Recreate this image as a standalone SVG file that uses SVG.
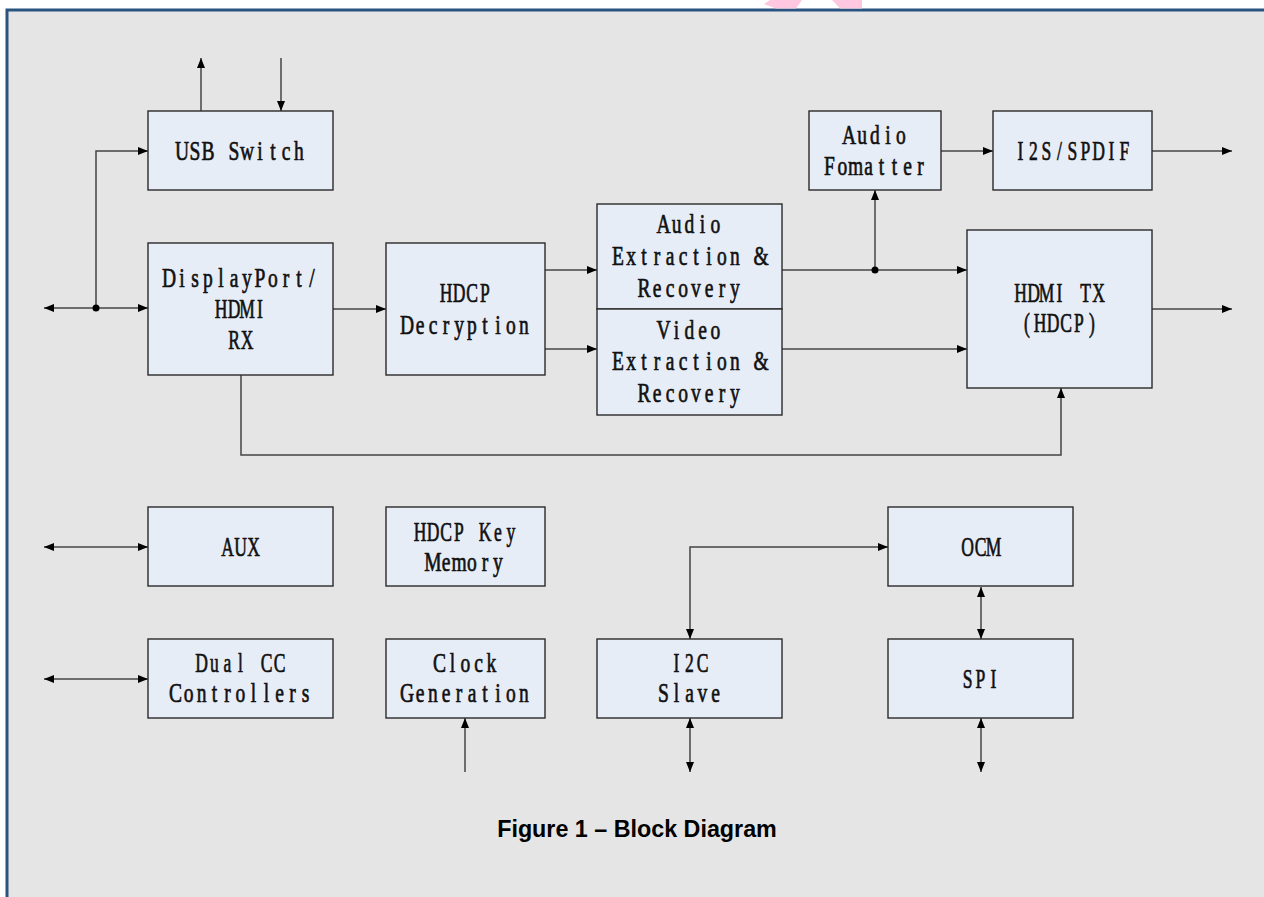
<svg xmlns="http://www.w3.org/2000/svg" width="1264" height="897" viewBox="0 0 1264 897">
<style>
.box{fill:#e7edf7;stroke:#2a2a2a;stroke-width:1.4}
.t{font-family:"Liberation Serif","DejaVu Serif",serif;font-size:27px;fill:#111;stroke:#111;stroke-width:0.7;text-anchor:middle}
.c{fill:none;stroke:#444;stroke-width:1.5}
.cap{font-family:"Liberation Sans",Arial,sans-serif;font-weight:bold;font-size:23.3px;fill:#000;text-anchor:middle}
</style>
<defs>
<marker id="a" viewBox="0 0 10 8" refX="10" refY="4" markerWidth="10" markerHeight="8" markerUnits="userSpaceOnUse" orient="auto-start-reverse"><path d="M0,0L10,4L0,8Z" fill="#000"/></marker>
</defs>
<rect x="0" y="0" width="1264" height="897" fill="#fff"/>
<rect x="7" y="10" width="1257" height="887" fill="#e5e5e5"/>
<path d="M7,897V10H1264" fill="none" stroke="#2a5480" stroke-width="3"/>
<g id="watermark" fill="#ffc8e0">
<polygon points="770,0 802,0 796,8.5 776,8.5 764,4"/>
<polygon points="832,0 862,0 862,8.5 840,8.5"/>
</g>

<g id="connectors">
<path class="c" d="M44,308H148" marker-start="url(#a)" marker-end="url(#a)"/>
<path class="c" d="M96,308V151H148" marker-end="url(#a)"/>
<circle cx="96" cy="308" r="3.5" fill="#000"/>
<path class="c" d="M201,111V58" marker-end="url(#a)"/>
<path class="c" d="M281,58V111" marker-end="url(#a)"/>
<path class="c" d="M333,309H386" marker-end="url(#a)"/>
<path class="c" d="M545,270H597" marker-end="url(#a)"/>
<path class="c" d="M545,349H597" marker-end="url(#a)"/>
<path class="c" d="M782,270H967" marker-end="url(#a)"/>
<path class="c" d="M875,270V190" marker-end="url(#a)"/>
<circle cx="875" cy="270" r="3.5" fill="#000"/>
<path class="c" d="M941,151H993" marker-end="url(#a)"/>
<path class="c" d="M1152,151H1232" marker-end="url(#a)"/>
<path class="c" d="M782,349H967" marker-end="url(#a)"/>
<path class="c" d="M1152,309H1232" marker-end="url(#a)"/>
<path class="c" d="M241,375V455H1061V388" marker-end="url(#a)"/>
<path class="c" d="M44,547H148" marker-start="url(#a)" marker-end="url(#a)"/>
<path class="c" d="M44,679H148" marker-start="url(#a)" marker-end="url(#a)"/>
<path class="c" d="M465,772V718" marker-end="url(#a)"/>
<path class="c" d="M690,639V547H888" marker-start="url(#a)" marker-end="url(#a)"/>
<path class="c" d="M981,587V639" marker-start="url(#a)" marker-end="url(#a)"/>
<path class="c" d="M690,718V772" marker-start="url(#a)" marker-end="url(#a)"/>
<path class="c" d="M981,718V772" marker-start="url(#a)" marker-end="url(#a)"/>
</g>

<g id="usb"><rect class="box" x="148" y="111" width="185" height="79"/>
<text class="t" transform="translate(240.5,160) scale(0.7222,1)" x="-81 -63 -45 -27 -9 9 27 45 63 81" y="0">USB Switch</text></g>

<g id="rx"><rect class="box" x="148" y="243" width="185" height="132"/>
<text class="t" transform="translate(240.5,287) scale(0.7222,1)" x="-99 -81 -63 -45 -27 -9 9 27 45 63 81 99" y="0">DisplayPort/</text>
<text class="t" transform="translate(240.5,318) scale(0.65,1)" x="-30 -10 10 30" y="0">HDMI</text>
<text class="t" transform="translate(240.5,349) scale(0.65,1)" x="-10 10" y="0">RX</text></g>

<g id="hdcp"><rect class="box" x="386" y="243" width="159" height="132"/>
<text class="t" transform="translate(465.5,302) scale(0.65,1)" x="-30 -10 10 30" y="0">HDCP</text>
<text class="t" transform="translate(465.5,334) scale(0.7222,1)" x="-81 -63 -45 -27 -9 9 27 45 63 81" y="0">Decryption</text></g>

<g id="audioext"><rect class="box" x="597" y="204" width="185" height="105"/>
<text class="t" transform="translate(689.5,233) scale(0.7222,1)" x="-36 -18 0 18 36" y="0">Audio</text>
<text class="t" transform="translate(689.5,265) scale(0.7222,1)" x="-99 -81 -63 -45 -27 -9 9 27 45 63 81 99" y="0">Extraction &amp;</text>
<text class="t" transform="translate(689.5,297) scale(0.7222,1)" x="-63 -45 -27 -9 9 27 45 63" y="0">Recovery</text></g>

<g id="videoext"><rect class="box" x="597" y="309" width="185" height="106"/>
<text class="t" transform="translate(689.5,339) scale(0.7222,1)" x="-36 -18 0 18 36" y="0">Video</text>
<text class="t" transform="translate(689.5,370) scale(0.7222,1)" x="-99 -81 -63 -45 -27 -9 9 27 45 63 81 99" y="0">Extraction &amp;</text>
<text class="t" transform="translate(689.5,402) scale(0.7222,1)" x="-63 -45 -27 -9 9 27 45 63" y="0">Recovery</text></g>

<g id="audiofmt"><rect class="box" x="809" y="111" width="132" height="79"/>
<text class="t" transform="translate(875,144) scale(0.7222,1)" x="-36 -18 0 18 36" y="0">Audio</text>
<text class="t" transform="translate(875,175) scale(0.7222,1)" x="-63 -45 -27 -9 9 27 45 63" y="0">Fomatter</text></g>

<g id="i2s"><rect class="box" x="993" y="111" width="159" height="79"/>
<text class="t" transform="translate(1072.5,160) scale(0.65,1)" x="-80 -60 -40 -20 0 20 40 60 80" y="0">I2S/SPDIF</text></g>

<g id="hdmitx"><rect class="box" x="967" y="230" width="185" height="158"/>
<text class="t" transform="translate(1059.5,302) scale(0.65,1)" x="-60 -40 -20 0 20 40 60" y="0">HDMI TX</text>
<text class="t" transform="translate(1059.5,332) scale(0.65,1)" x="-50 -30 -10 10 30 50" y="0">(HDCP)</text></g>

<g id="aux"><rect class="box" x="148" y="507" width="185" height="79"/>
<text class="t" transform="translate(240.5,556) scale(0.65,1)" x="-20 0 20" y="0">AUX</text></g>

<g id="hdcpkey"><rect class="box" x="386" y="507" width="159" height="79"/>
<text class="t" transform="translate(465.5,541) scale(0.65,1)" x="-70 -50 -30 -10 10 30 50 70" y="0">HDCP Key</text>
<text class="t" transform="translate(465.5,571) scale(0.7222,1)" x="-45 -27 -9 9 27 45" y="0">Memory</text></g>

<g id="dualcc"><rect class="box" x="148" y="639" width="185" height="79"/>
<text class="t" transform="translate(240.5,672) scale(0.65,1)" x="-60 -40 -20 0 20 40 60" y="0">Dual CC</text>
<text class="t" transform="translate(240.5,702) scale(0.7222,1)" x="-90 -72 -54 -36 -18 0 18 36 54 72 90" y="0">Controllers</text></g>

<g id="clock"><rect class="box" x="386" y="639" width="159" height="79"/>
<text class="t" transform="translate(465.5,672) scale(0.7222,1)" x="-36 -18 0 18 36" y="0">Clock</text>
<text class="t" transform="translate(465.5,702) scale(0.7222,1)" x="-81 -63 -45 -27 -9 9 27 45 63 81" y="0">Generation</text></g>

<g id="i2c"><rect class="box" x="597" y="639" width="185" height="79"/>
<text class="t" transform="translate(689.5,672) scale(0.65,1)" x="-20 0 20" y="0">I2C</text>
<text class="t" transform="translate(689.5,702) scale(0.7222,1)" x="-36 -18 0 18 36" y="0">Slave</text></g>

<g id="ocm"><rect class="box" x="888" y="507" width="185" height="79"/>
<text class="t" transform="translate(980.5,556) scale(0.65,1)" x="-20 0 20" y="0">OCM</text></g>

<g id="spi"><rect class="box" x="888" y="639" width="185" height="79"/>
<text class="t" transform="translate(980.5,688) scale(0.65,1)" x="-20 0 20" y="0">SPI</text></g>

<text class="cap" x="637" y="837">Figure 1 – Block Diagram</text>
</svg>
